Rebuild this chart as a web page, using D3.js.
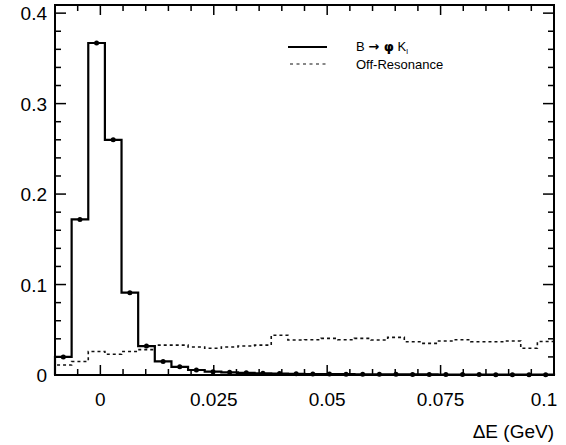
<!DOCTYPE html>
<html>
<head>
<meta charset="utf-8">
<script src="https://cdn.jsdelivr.net/npm/d3@7"></script>
<style>
  body { margin: 0; background: #fff; }
  svg { display: block; font-family: "Liberation Sans", Arial, sans-serif; }
</style>
</head>
<body>
<div id="chart"></div>
<script>
// histogram: 30 bins from -0.01 to 0.1 GeV
const binLow = -0.01;
const binHigh = 0.1;
const nBins = 30;

const signalValues = [
  0.020, 0.172, 0.367, 0.260, 0.091, 0.032, 0.015, 0.009, 0.0055, 0.0037,
  0.0030, 0.0024, 0.0019, 0.0016, 0.0013, 0.0011, 0.0010, 0.0009, 0.0008, 0.0007,
  0.0007, 0.0006, 0.0006, 0.0005, 0.0005, 0.0005, 0.0004, 0.0004, 0.0004, 0.0004
];

const offResValues = [
  0.011, 0.015, 0.026, 0.023, 0.026, 0.028, 0.033, 0.033, 0.031, 0.0295,
  0.031, 0.032, 0.033, 0.044, 0.0387, 0.039, 0.0405, 0.039, 0.0405, 0.0387,
  0.0416, 0.0368, 0.035, 0.0376, 0.039, 0.0368, 0.0368, 0.0376, 0.0295, 0.037
];

const xTicks = [0, 0.025, 0.05, 0.075, 0.1];
const xTickLabels = ["0", "0.025", "0.05", "0.075", "0.1"];
const yTicks = [0, 0.1, 0.2, 0.3, 0.4];
const yTickLabels = ["0", "0.1", "0.2", "0.3", "0.4"];

const width = 566, height = 445;
const margin = { top: 5, right: 12, bottom: 70, left: 55 };
const plotW = width - margin.left - margin.right;
const plotH = height - margin.top - margin.bottom;

const svg = d3.select("#chart").append("svg")
  .attr("width", width)
  .attr("height", height);

const g = svg.append("g")
  .attr("transform", `translate(${margin.left},${margin.top})`);

const x = d3.scaleLinear().domain([binLow, binHigh]).range([0, plotW]);
const y = d3.scaleLinear().domain([0, 0.409]).range([plotH, 0]);

const binW = (binHigh - binLow) / nBins;
const toBins = vals => vals.map((v, i) => ({ x0: binLow + i * binW, x1: binLow + (i + 1) * binW, v }));

function stepPath(bins) {
  const pts = [[x(bins[0].x0), y(0)]];
  bins.forEach(b => {
    pts.push([x(b.x0), y(b.v)]);
    pts.push([x(b.x1), y(b.v)]);
  });
  pts.push([x(bins[bins.length - 1].x1), y(0)]);
  return d3.line()(pts);
}

const sigBins = toBins(signalValues);
const offBins = toBins(offResValues);

// off-resonance (dashed)
g.append("path")
  .attr("d", stepPath(offBins))
  .attr("fill", "none")
  .attr("stroke", "#111")
  .attr("stroke-width", 1.6)
  .attr("stroke-dasharray", "3,3");

// signal (solid)
g.append("path")
  .attr("d", stepPath(sigBins))
  .attr("fill", "none")
  .attr("stroke", "#000")
  .attr("stroke-width", 2.2);

g.selectAll("circle.sig")
  .data(sigBins)
  .enter().append("circle")
  .attr("class", "sig")
  .attr("cx", d => x((d.x0 + d.x1) / 2))
  .attr("cy", d => y(d.v))
  .attr("r", 2.5)
  .attr("fill", "#000");

// frame
g.append("rect")
  .attr("width", plotW)
  .attr("height", plotH)
  .attr("fill", "none")
  .attr("stroke", "#000")
  .attr("stroke-width", 2);

// ticks on all four sides, inward
const xMinor = d3.range(-0.01, 0.1001, 0.005).filter(t => !xTicks.some(m => Math.abs(m - t) < 1e-9));
const yMinor = d3.range(0, 0.409, 0.02).filter(t => !yTicks.some(m => Math.abs(m - t) < 1e-9));

const addXAxis = (len, ticks) => {
  [0, plotH].forEach(base => {
    const dir = base === 0 ? 1 : -1;
    g.selectAll(null).data(ticks).enter().append("line")
      .attr("x1", d => x(d)).attr("x2", d => x(d))
      .attr("y1", base).attr("y2", base + dir * len)
      .attr("stroke", "#000").attr("stroke-width", 1.5);
  });
};
const addYAxis = (len, ticks) => {
  [0, plotW].forEach(base => {
    const dir = base === 0 ? 1 : -1;
    g.selectAll(null).data(ticks).enter().append("line")
      .attr("y1", d => y(d)).attr("y2", d => y(d))
      .attr("x1", base).attr("x2", base + dir * len)
      .attr("stroke", "#000").attr("stroke-width", 1.5);
  });
};
addXAxis(10, xTicks);
addXAxis(6, xMinor);
addYAxis(11, yTicks);
addYAxis(6, yMinor);

// tick labels
g.selectAll("text.xl")
  .data(xTicks)
  .enter().append("text")
  .attr("class", "xl")
  .attr("x", (d, i) => i === xTicks.length - 1 ? x(d) - 10 : x(d))
  .attr("y", plotH + 31)
  .attr("text-anchor", "middle")
  .attr("font-size", 19)
  .text((d, i) => xTickLabels[i]);

g.selectAll("text.yl")
  .data(yTicks)
  .enter().append("text")
  .attr("class", "yl")
  .attr("x", -8)
  .attr("y", d => y(d) + 7)
  .attr("text-anchor", "end")
  .attr("font-size", 19)
  .text((d, i) => yTickLabels[i]);

// axis title
svg.append("text")
  .attr("x", 554)
  .attr("y", 438)
  .attr("text-anchor", "end")
  .attr("font-size", 19)
  .text("ΔE (GeV)");

// legend
const legend = svg.append("g");
legend.append("line")
  .attr("x1", 288).attr("x2", 327).attr("y1", 47).attr("y2", 47)
  .attr("stroke", "#000").attr("stroke-width", 2);
legend.append("line")
  .attr("x1", 290).attr("x2", 327).attr("y1", 64).attr("y2", 64)
  .attr("stroke", "#111").attr("stroke-width", 1.2).attr("stroke-dasharray", "3,3.5");
const t1 = legend.append("text")
  .attr("x", 356).attr("y", 51).attr("font-size", 13);
t1.append("tspan").text("B ");
t1.append("tspan").attr("font-family", "DejaVu Sans").attr("font-weight", "bold").text("→");
t1.append("tspan").attr("font-family", "DejaVu Sans").attr("font-weight", "bold").text(" φ");
t1.append("tspan").text(" K");
t1.append("tspan").attr("font-size", 8).attr("dy", 3).text("l");
legend.append("text")
  .attr("x", 356).attr("y", 69).attr("font-size", 13)
  .text("Off-Resonance");
</script>
</body>
</html>
